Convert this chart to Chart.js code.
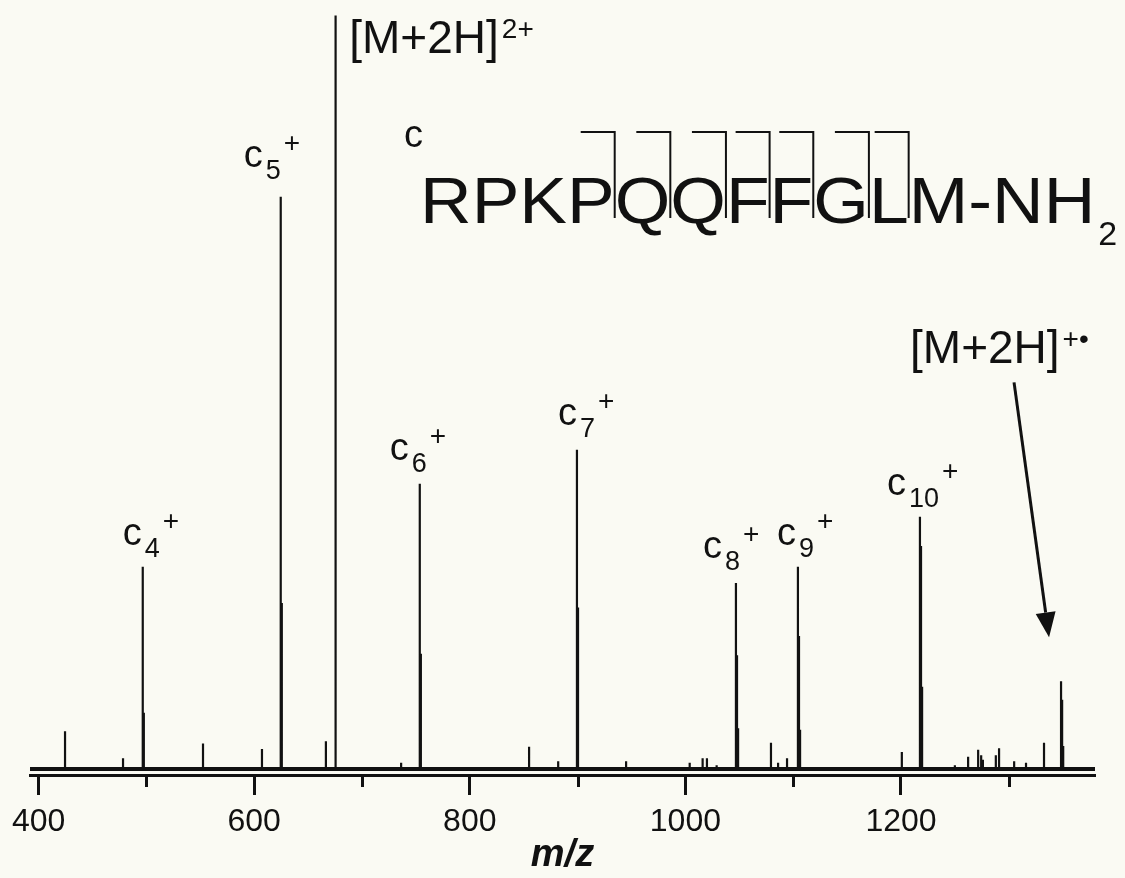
<!DOCTYPE html>
<html lang="en">
<head>
  <meta charset="UTF-8">
  <title>Spectre ECD - substance P</title>
  <style>
    body {
      margin: 0;
      background: #fafaf3;
    }

    #chart-container {
      width: 1125px;
      height: 878px;
    }
  </style>
</head>
<body>
  <div id="chart-container">
    <canvas id="spectrum"></canvas>
  </div>

  <script src="https://cdn.jsdelivr.net/npm/chart.js"></script>
  <script>
    // labelled peaks (m/z, relative intensity)
    const ionMz        = [496.6, 624.6, 675.2, 753.6, 899.4, 1046.9, 1104.4, 1217.6, 1348.5];
    const ionIntensity = [26.3, 74.4, 98.0, 37.1, 41.5, 24.2, 26.3, 32.8, 11.4];
    const ionBase      = ['c', 'c', '[M+2H]', 'c', 'c', 'c', 'c', 'c', '[M+2H]'];
    const ionSub       = ['4', '5', '', '6', '7', '8', '9', '10', ''];
    const ionSup       = ['+', '+', '2+', '+', '+', '+', '+', '+', '+\u2022'];

    // isotopes and small peaks
    const minorMz = [424.5, 478.3, 497.6, 552.5, 607.2, 625.6, 666.5, 675.7, 736.3, 754.6,
                     855.0, 882.0, 900.4, 945.0, 1004.0, 1016.0, 1020.0, 1029.0, 1047.9, 1048.9,
                     1079.4, 1086.0, 1094.3, 1105.4, 1106.4, 1200.8, 1218.6, 1219.6, 1250.0, 1262.3,
                     1271.6, 1274.4, 1276.0, 1288.0, 1291.0, 1305.0, 1316.0, 1332.7, 1349.5, 1350.5];
    const minorIntensity = [4.9, 1.4, 7.3, 3.3, 2.6, 21.6, 3.6, 30.0, 0.8, 15.0,
                            2.9, 1.0, 21.0, 1.0, 0.8, 1.4, 1.4, 0.5, 14.8, 5.3,
                            3.4, 0.8, 1.4, 17.3, 5.1, 2.2, 29.0, 10.7, 0.5, 1.6,
                            2.5, 1.8, 1.2, 1.8, 2.7, 1.0, 0.8, 3.4, 9.0, 3.0];

    const majorTicks = [400, 600, 800, 1000, 1200];
    const minorTicks = [500, 700, 900, 1100, 1300];

    const sequence = 'RPKPQQFFGLM-NH';
    const cleavages = [4, 5, 6, 7, 8, 9, 10];

    // layout of the annotations (pixels)
    const labelOffset = [[-20, -22], [-37, -30], [14, 38], [-30, -24], [-19, -25],
                         [-33, -25], [-21, -22], [-33, -22], [-151, -318]];
    const arrowFrom = [-47, -299];
    const arrowTo = [-12, -44];
    const seqLayout = { x: 420, base: 223, size: 65, stretch: 1.1, markTop: 132, markBottom: 218, markLen: 34 };

    const ink = '#111';
    const FAMILY = '"Liberation Sans", Arial, sans-serif';
    const font = (size) => size + 'px ' + FAMILY;

    Chart.defaults.font.family = FAMILY;

    const peaks = ionMz.map((m, i) => ({ m: m, h: ionIntensity[i] }))
      .concat(minorMz.map((m, i) => ({ m: m, h: minorIntensity[i] })))
      .sort((a, b) => a.m - b.m);

    const sticks = [];
    peaks.forEach(p => {
      sticks.push({ x: p.m, y: 0 }, { x: p.m, y: p.h }, { x: p.m, y: 0 });
    });

    const annotations = {
      id: 'annotations',
      afterDatasetsDraw(chart) {
        const ctx = chart.ctx;
        const x = chart.scales.x;
        const y = chart.scales.y;
        ctx.save();
        ctx.fillStyle = ink;
        ctx.strokeStyle = ink;
        ctx.textAlign = 'left';
        ctx.textBaseline = 'alphabetic';

        // minor ticks
        ctx.lineWidth = 3;
        minorTicks.forEach(v => {
          const px = Math.round(x.getPixelForValue(v)) + 0.5;
          ctx.beginPath();
          ctx.moveTo(px, x.top);
          ctx.lineTo(px, x.top + 12);
          ctx.stroke();
        });

        // peak labels
        ionMz.forEach((mz, i) => {
          const isC = ionBase[i] === 'c';
          const bx = x.getPixelForValue(mz) + labelOffset[i][0];
          const by = y.getPixelForValue(ionIntensity[i]) + labelOffset[i][1];
          ctx.font = font(isC ? 38 : 46);
          ctx.fillText(ionBase[i], bx, by);
          let cx = bx + ctx.measureText(ionBase[i]).width;
          if (ionSub[i]) {
            ctx.font = font(27);
            ctx.fillText(ionSub[i], cx + 3, by + 12);
            cx += 3 + ctx.measureText(ionSub[i]).width;
          }
          ctx.font = font(isC ? 28 : 28);
          ctx.fillText(ionSup[i], cx + 3, by + (isC ? -15 : -15));
        });

        // arrow to the charge reduced species
        const last = ionMz.length - 1;
        const mx = x.getPixelForValue(ionMz[last]);
        const my = y.getPixelForValue(ionIntensity[last]);
        const x0 = mx + arrowFrom[0], y0 = my + arrowFrom[1];
        const x1 = mx + arrowTo[0], y1 = my + arrowTo[1];
        const ang = Math.atan2(y1 - y0, x1 - x0);
        const headLen = 25, headHalf = 10;
        const hx = x1 - headLen * Math.cos(ang), hy = y1 - headLen * Math.sin(ang);
        ctx.lineWidth = 3;
        ctx.beginPath();
        ctx.moveTo(x0, y0);
        ctx.lineTo(hx, hy);
        ctx.stroke();
        ctx.beginPath();
        ctx.moveTo(x1, y1);
        ctx.lineTo(hx + headHalf * Math.sin(ang), hy - headHalf * Math.cos(ang));
        ctx.lineTo(hx - headHalf * Math.sin(ang), hy + headHalf * Math.cos(ang));
        ctx.closePath();
        ctx.fill();

        // sequence with c-ion cleavage marks
        const s = seqLayout;
        ctx.font = font(s.size);
        const fullW = ctx.measureText(sequence).width * s.stretch;
        const cuts = cleavages.map(c => s.x + ctx.measureText(sequence.slice(0, c)).width * s.stretch);
        ctx.save();
        ctx.translate(s.x, s.base);
        ctx.scale(s.stretch, 1);
        ctx.fillText(sequence, 0, 0);
        ctx.restore();
        ctx.font = font(34);
        ctx.fillText('2', s.x + fullW + 3, s.base + 22);

        ctx.lineWidth = 2;
        cuts.forEach(cx => {
          ctx.beginPath();
          ctx.moveTo(cx - s.markLen, s.markTop);
          ctx.lineTo(cx, s.markTop);
          ctx.lineTo(cx, s.markBottom);
          ctx.stroke();
        });
        ctx.font = font(38);
        ctx.fillText('c', 404, 147);

        ctx.restore();
      }
    };

    new Chart(document.getElementById('spectrum'), {
      type: 'line',
      data: {
        datasets: [
          {
            data: [{ x: 392, y: 0 }, { x: 1380, y: 0 }],
            borderColor: ink,
            borderWidth: 4,
            pointRadius: 0
          },
          {
            data: sticks,
            borderColor: ink,
            borderWidth: 2.2,
            borderJoinStyle: 'bevel',
            pointRadius: 0,
            tension: 0
          }
        ]
      },
      options: {
        responsive: true,
        maintainAspectRatio: false,
        animation: false,
        events: [],
        layout: { padding: { left: 30, right: 30, top: 0, bottom: 0 } },
        plugins: {
          legend: { display: false },
          tooltip: { enabled: false }
        },
        scales: {
          x: {
            type: 'linear',
            min: 392,
            max: 1380,
            afterBuildTicks: scale => {
              scale.ticks = majorTicks.map(v => ({ value: v }));
            },
            afterFit: scale => {
              scale.height = 103;
            },
            grid: {
              display: true,
              drawOnChartArea: false,
              drawTicks: true,
              tickLength: 20,
              tickWidth: 3,
              tickColor: ink
            },
            border: { display: true, width: 3, color: ink },
            ticks: {
              color: ink,
              font: { size: 32 },
              padding: 8,
              maxRotation: 0,
              autoSkip: false,
              callback: v => String(v)
            },
            title: {
              display: true,
              text: 'm/z',
              color: ink,
              font: { size: 38, weight: 'bold', style: 'italic' },
              padding: { top: 0, bottom: 0 }
            }
          },
          y: {
            display: false,
            min: -0.78,
            max: 100
          }
        }
      },
      plugins: [annotations]
    });
  </script>
</body>
</html>
